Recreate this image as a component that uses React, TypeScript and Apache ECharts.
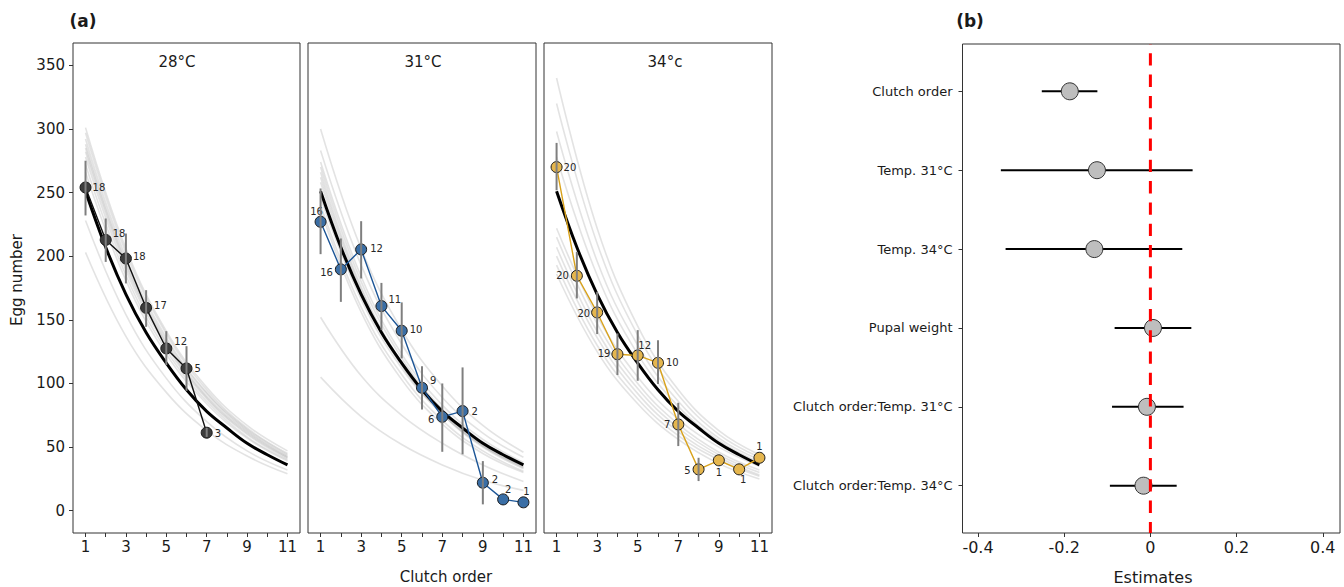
import React, { useEffect, useRef } from "react";
import * as echarts from "echarts";

// ---- shared axes ----
const clutchOrder = [1, 2, 3, 4, 5, 6, 7, 8, 9, 10, 11];
const clutchLabels = [1, 3, 5, 7, 9, 11];
const eggTicks = [0, 50, 100, 150, 200, 250, 300, 350];
const fitX = [1, 3, 5, 7, 9, 11];

// population-level fitted decline (drawn in every temperature panel)
const meanFit = [251, 207, 170, 140, 116, 95, 78, 65, 53, 44, 36];

// individual-level fitted curves, evaluated at fitX
const fits28 = [
  [301, 206, 141, 97, 67, 47],
  [297, 203, 139, 95, 65, 45],
  [292, 199, 136, 93, 64, 44],
  [288, 196, 134, 92, 63, 43],
  [285, 194, 132, 90, 62, 42],
  [282, 192, 131, 89, 61, 42],
  [278, 189, 129, 88, 60, 41],
  [272, 185, 126, 86, 58, 40],
  [266, 181, 123, 84, 57, 39],
  [228, 154, 104, 70, 47, 32],
  [203, 137, 93, 63, 43, 29],
];
const fits31 = [
  [300, 206, 142, 98, 67, 46],
  [283, 193, 131, 89, 61, 42],
  [274, 184, 123, 83, 56, 38],
  [270, 180, 120, 80, 54, 36],
  [266, 176, 116, 77, 51, 34],
  [262, 174, 115, 76, 50, 33],
  [258, 172, 114, 76, 51, 34],
  [246, 166, 112, 76, 51, 35],
  [240, 160, 107, 71, 47, 31],
  [236, 156, 103, 68, 45, 30],
  [152, 106, 75, 53, 36, 23],
  [105, 74, 52, 36, 24, 16],
];
const fits34 = [
  [340, 222, 145, 95, 63, 44],
  [320, 210, 138, 91, 60, 42],
  [298, 196, 130, 86, 57, 40],
  [278, 185, 123, 82, 55, 38],
  [222, 153, 105, 72, 50, 35],
  [215, 147, 100, 68, 46, 32],
  [207, 141, 96, 65, 44, 30],
  [200, 136, 92, 62, 42, 28],
  [193, 130, 88, 59, 40, 27],
  [186, 125, 84, 56, 37, 25],
];

// observed means per clutch, with error bars and sample sizes
const mean28 = [254, 212.8, 198.2, 159.4, 127.5, 111.8, 61.3];
const low28 = [232, 195.5, 178.6, 144.5, 114.4, 94.2, 58];
const high28 = [275, 229.6, 217.8, 173.3, 141.1, 129.3, 65];
const n28 = [18, 18, 18, 17, 12, 5, 3];

const mean31 = [227, 189.6, 205.3, 160.8, 141.4, 96.6, 73.8, 78.3, 22, 8.9, 6.6];
const low31 = [201.6, 164.1, 182.5, 141.9, 119.7, 79.6, 46.3, 44.3, 5, null, null];
const high31 = [253.2, 213.9, 227.5, 179, 163.7, 113.6, 100, 112.6, 39, null, null];
const n31 = [16, 16, 12, 11, 10, 9, 6, 2, 2, 2, 1];

const mean34 = [270, 184.6, 155.8, 123, 122, 116.2, 67.8, 32.5, 39.6, 32.5, 41.6];
const low34 = [251.8, 166.8, 138.8, 106.6, 102.1, 99.5, 50.8, 23.3, null, null, null];
const high34 = [289, 203.4, 172, 139.3, 141.9, 134, 84.8, 41.6, null, null, null];
const n34 = [20, 20, 20, 19, 12, 10, 7, 5, 1, 1, 1];

// ---- model estimates ----
const terms = [
  "Clutch order",
  "Temp. 31°C",
  "Temp. 34°C",
  "Pupal weight",
  "Clutch order:Temp. 31°C",
  "Clutch order:Temp. 34°C",
];
const estimates = [-0.187, -0.124, -0.13, 0.006, -0.008, -0.016];
const ciLow = [-0.252, -0.347, -0.336, -0.083, -0.089, -0.094];
const ciHigh = [-0.123, 0.098, 0.074, 0.095, 0.077, 0.061];
const estimateTicks = [-0.4, -0.2, 0, 0.2, 0.4];

// ---- styling ----
const FONT = "DejaVu Sans";
const TEXT = "#1a1a1a";

// sample-size tag placement: [position, dx, dy]
const tags28 = [
  ["right", 0, 0], ["right", 0, -6], ["right", 0, -2], ["right", 1, -2],
  ["right", 1, -7], ["right", 1, 0], ["right", 1, 1],
];
const tags31 = [
  ["top", -4, 2], ["left", -1, 3], ["right", 2, -1], ["right", 0, -7],
  ["right", 1, -1], ["right", 1, -7], ["left", -1, 3], ["right", 2, 0],
  ["right", 2, -3], ["top", 5, 2], ["top", 3, 1],
];
const tags34 = [
  ["right", 0, 0], ["left", -1, 0], ["left", 0, 1], ["left", 0, -1],
  ["top", 7, 2], ["right", 1, 0], ["left", -1, 0], ["left", -1, 1],
  ["bottom", 0, 0], ["bottom", 4, -2], ["top", 0, 1],
];

const panels = [
  { grid: { left: 73, top: 43, width: 227, height: 490 }, fits: fits28, mean: mean28, low: low28, high: high28, n: n28, tags: tags28, fill: "#3d3d3d", line: "#111111", title: "28°C", titleX: 177 },
  { grid: { left: 308, top: 43, width: 228, height: 490 }, fits: fits31, mean: mean31, low: low31, high: high31, n: n31, tags: tags31, fill: "#3a6ea5", line: "#1c5596", title: "31°C", titleX: 423 },
  { grid: { left: 544, top: 43, width: 228, height: 490 }, fits: fits34, mean: mean34, low: low34, high: high34, n: n34, tags: tags34, fill: "#e5b64e", line: "#d9a21b", title: "34°c", titleX: 665 },
];

function buildOption() {
  const grids: any[] = [];
  const xAxes: any[] = [];
  const yAxes: any[] = [];
  const series: any[] = [];

  panels.forEach((p, idx) => {
    grids.push({ ...p.grid, show: true, borderColor: "#333", borderWidth: 1, backgroundColor: "transparent" });
    xAxes.push({
      type: "value", gridIndex: idx, min: 0.38, max: 11.62,
      axisLine: { show: false, onZero: false },
      splitLine: { show: false },
      axisTick: { show: true, length: 4, customValues: clutchOrder, lineStyle: { color: "#333" } },
      axisLabel: { customValues: clutchLabels, fontSize: 15, color: TEXT, fontFamily: FONT, margin: 6 },
    });
    yAxes.push({
      type: "value", gridIndex: idx, min: -17.5, max: 367.5, show: idx === 0,
      axisLine: { show: false, onZero: false },
      splitLine: { show: false },
      axisTick: { show: true, length: 4, customValues: eggTicks, lineStyle: { color: "#333" } },
      axisLabel: { customValues: eggTicks, fontSize: 15, color: TEXT, fontFamily: FONT, margin: 8 },
    });

    // individual curves
    p.fits.forEach((f) => {
      series.push({
        type: "line", xAxisIndex: idx, yAxisIndex: idx, silent: true, z: 1,
        data: fitX.map((x, i) => [x, f[i]]),
        smooth: 0.4, symbol: "none",
        lineStyle: { color: "rgba(185,185,185,0.4)", width: 1.6 },
      });
    });
    // population curve
    series.push({
      type: "line", xAxisIndex: idx, yAxisIndex: idx, silent: true, z: 2,
      data: clutchOrder.map((x, i) => [x, meanFit[i]]),
      smooth: 0.4, symbol: "none",
      lineStyle: { color: "#000", width: 3 },
    });
    // observed means
    series.push({
      type: "line", xAxisIndex: idx, yAxisIndex: idx, z: 3,
      symbol: "circle", symbolSize: 11, showAllSymbol: true,
      lineStyle: { color: p.line, width: 1.4 },
      itemStyle: { color: p.fill, borderColor: "#1a1a1a", borderWidth: 1 },
      label: { show: true, fontSize: 10, color: "#262626", fontFamily: FONT, distance: 1 },
      data: p.mean.map((v, i) => ({
        value: [clutchOrder[i], v],
        label: {
          show: true,
          formatter: String(p.n[i]),
          position: p.tags[i][0],
          offset: [p.tags[i][1], p.tags[i][2]],
          distance: 1,
        },
      })),
    });
    // error bars
    series.push({
      type: "custom", xAxisIndex: idx, yAxisIndex: idx, z: 4, silent: true,
      encode: { x: 0, y: [1, 2] },
      data: p.mean
        .map((_, i) => [clutchOrder[i], p.low[i], p.high[i]])
        .filter((d) => d[1] != null && d[2] != null),
      renderItem: (params: any, api: any) => {
        const x = api.value(0);
        const a = api.coord([x, api.value(1)]);
        const b = api.coord([x, api.value(2)]);
        return {
          type: "line",
          shape: { x1: a[0], y1: a[1], x2: b[0], y2: b[1] },
          style: { stroke: "#7f7f7f", lineWidth: 2 },
        };
      },
    });
  });

  // estimates panel
  const bi = 3;
  grids.push({ left: 962.5, top: 44, width: 377.5, height: 489, show: true, borderColor: "#333", borderWidth: 1, backgroundColor: "transparent" });
  xAxes.push({
    type: "value", gridIndex: bi, min: -0.436, max: 0.44,
    axisLine: { show: false, onZero: false },
    splitLine: { show: false },
    axisTick: { show: true, length: 4, customValues: estimateTicks, lineStyle: { color: "#333" } },
    axisLabel: {
      customValues: estimateTicks, fontSize: 16, color: TEXT, fontFamily: FONT, margin: 6,
      formatter: (v: number) => (Math.abs(v) < 1e-9 ? "0" : v.toFixed(1)),
    },
  });
  yAxes.push({
    type: "value", gridIndex: bi, min: 0.4, max: 6.6, inverse: true,
    axisLine: { show: false, onZero: false },
    splitLine: { show: false },
    axisTick: { show: true, length: 4, customValues: [1, 2, 3, 4, 5, 6], lineStyle: { color: "#333" } },
    axisLabel: {
      customValues: [1, 2, 3, 4, 5, 6], fontSize: 13, color: TEXT, fontFamily: FONT, margin: 10,
      formatter: (v: number) => terms[Math.round(v) - 1] ?? "",
    },
  });
  series.push({
    type: "custom", xAxisIndex: bi, yAxisIndex: bi, z: 2, silent: true,
    encode: { x: [0, 1], y: 2 },
    data: terms.map((_, i) => [ciLow[i], ciHigh[i], i + 1]),
    renderItem: (params: any, api: any) => {
      const row = api.value(2);
      const a = api.coord([api.value(0), row]);
      const b = api.coord([api.value(1), row]);
      return {
        type: "line",
        shape: { x1: a[0], y1: a[1], x2: b[0], y2: b[1] },
        style: { stroke: "#000", lineWidth: 2 },
      };
    },
  });
  series.push({
    type: "scatter", xAxisIndex: bi, yAxisIndex: bi, z: 3,
    symbol: "circle", symbolSize: 17,
    itemStyle: { color: "#bebebe", borderColor: "#333", borderWidth: 1, opacity: 1 },
    data: terms.map((_, i) => [estimates[i], i + 1]),
  });
  series.push({
    type: "line", xAxisIndex: bi, yAxisIndex: bi, z: 4, silent: true, symbol: "none",
    data: [[0, 0.4], [0, 6.6]],
    lineStyle: { color: "#ff0000", width: 3, type: [12.3, 9], dashOffset: 12.3 },
  });

  const txt = (text: string, x: number, y: number, font: string, rotation = 0) => ({
    type: "text", x, y, rotation, silent: true,
    style: { text, font, fill: TEXT, textAlign: "center", textVerticalAlign: "middle", align: "center", verticalAlign: "middle" },
  });

  const graphic: any[] = [
    txt("(a)", 83, 21, `bold 17px ${FONT}`),
    txt("(b)", 970, 21, `bold 17px ${FONT}`),
    txt("Egg number", 17, 280, `15px ${FONT}`, Math.PI / 2),
    txt("Clutch order", 446, 577, `15px ${FONT}`),
    txt("Estimates", 1153, 577, `16px ${FONT}`),
    ...panels.map((p) => txt(p.title, p.titleX, 62, `15px ${FONT}`)),
  ];

  return {
    animation: false,
    backgroundColor: "#fff",
    textStyle: { fontFamily: FONT },
    grid: grids,
    xAxis: xAxes,
    yAxis: yAxes,
    series,
    graphic,
  };
}

export default function App() {
  const ref = useRef<HTMLDivElement>(null);
  useEffect(() => {
    if (!ref.current) return;
    const chart = echarts.init(ref.current, undefined, { renderer: "svg" });
    chart.setOption(buildOption() as any);
    return () => chart.dispose();
  }, []);
  return (
    <div
      ref={ref}
      style={{ position: "fixed", left: 0, top: 0, width: 1344, height: 587, background: "#fff" }}
    />
  );
}
